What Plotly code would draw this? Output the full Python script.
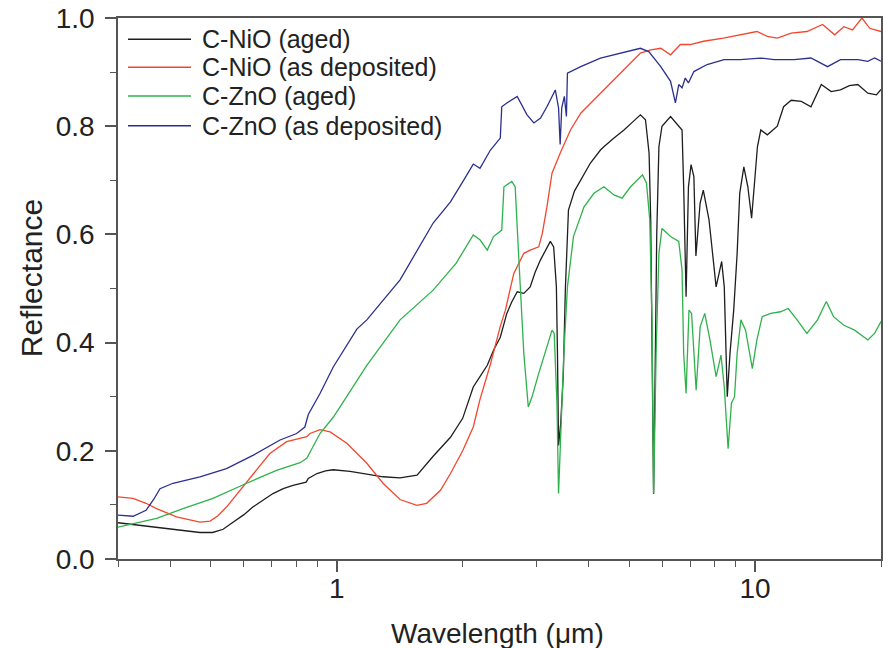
import plotly.graph_objects as go

# ---- data (wavelength in µm, reflectance) ----
nio_aged_wl = [0.30, 0.34, 0.371, 0.405, 0.44, 0.471, 0.505, 0.535, 0.565, 0.60, 0.63, 0.665, 0.704, 0.745,
               0.786, 0.845, 0.855, 0.897, 0.94, 0.98, 1.076, 1.18, 1.29, 1.417, 1.556, 1.70, 1.87, 2.0,
               2.12, 2.20, 2.29, 2.37, 2.46, 2.55, 2.62, 2.70, 2.80, 2.90, 2.98, 3.07, 3.15, 3.24, 3.30,
               3.35, 3.37, 3.39, 3.43, 3.48, 3.52, 3.58, 3.70, 3.83, 4.04, 4.27, 4.35, 4.60, 4.86, 5.10,
               5.32, 5.47, 5.58, 5.63, 5.68, 5.72, 5.77, 5.82, 5.89, 5.99, 6.28, 6.57, 6.69, 6.75, 6.84,
               6.93, 7.03, 7.14, 7.22, 7.39, 7.52, 7.76, 8.07, 8.32, 8.44, 8.58, 8.71, 8.89, 9.06, 9.19,
               9.40, 9.61, 9.81, 9.98, 10.13, 10.32, 10.7, 11.3, 11.7, 12.2, 12.9, 13.6, 14.4, 15.2, 16.0,
               16.8, 17.6, 18.6, 19.5, 20.0]
nio_aged_r = [0.067, 0.062, 0.058, 0.055, 0.052, 0.049, 0.049, 0.055, 0.068, 0.082, 0.096, 0.109, 0.121, 0.130,
              0.136, 0.142, 0.149, 0.158, 0.163, 0.165, 0.162, 0.157, 0.152, 0.150, 0.155, 0.19, 0.225, 0.26,
              0.318, 0.337, 0.358, 0.386, 0.41, 0.454, 0.475, 0.494, 0.491, 0.503, 0.53, 0.553, 0.57, 0.587, 0.577,
              0.503, 0.38, 0.21, 0.25, 0.34, 0.50, 0.645, 0.68, 0.70, 0.732, 0.756, 0.762, 0.778, 0.793, 0.808,
              0.821, 0.812, 0.75, 0.627, 0.35, 0.12, 0.35, 0.60, 0.762, 0.80, 0.818, 0.80, 0.793, 0.688, 0.485,
              0.688, 0.729, 0.707, 0.56, 0.658, 0.682, 0.627, 0.503, 0.55, 0.503, 0.30, 0.38, 0.46, 0.565, 0.676,
              0.725, 0.688, 0.63, 0.70, 0.762, 0.793, 0.784, 0.80, 0.836, 0.848, 0.846, 0.836, 0.877, 0.864, 0.867,
              0.875, 0.877, 0.861, 0.858, 0.868]

nio_dep_wl = [0.30, 0.326, 0.35, 0.371, 0.414, 0.471, 0.498, 0.52, 0.545, 0.587, 0.632, 0.692, 0.759, 0.817,
              0.848, 0.863, 0.912, 0.964, 1.057, 1.18, 1.29, 1.417, 1.554, 1.64, 1.77, 1.87, 2.0, 2.12, 2.20,
              2.33, 2.46, 2.53, 2.65, 2.80, 2.90, 3.04, 3.10, 3.18, 3.27, 3.42, 3.62, 3.83, 4.04, 4.43, 4.86,
              5.32, 5.63, 5.95, 6.28, 6.63, 7.0, 7.53, 8.4, 9.2, 10.1, 10.7, 11.3, 12.2, 13.3, 14.5, 15.5,
              16.3, 17.1, 18.0, 18.8, 20.0]
nio_dep_r = [0.115, 0.112, 0.103, 0.093, 0.078, 0.068, 0.070, 0.080, 0.096, 0.127, 0.158, 0.195, 0.217, 0.223,
             0.226, 0.232, 0.239, 0.235, 0.214, 0.177, 0.14, 0.110, 0.099, 0.103, 0.127, 0.158, 0.20, 0.244, 0.295,
             0.36, 0.43, 0.46, 0.528, 0.565, 0.571, 0.577, 0.602, 0.651, 0.713, 0.75, 0.793, 0.824, 0.842, 0.873,
             0.904, 0.935, 0.941, 0.944, 0.932, 0.951, 0.951, 0.957, 0.963, 0.969, 0.975, 0.966, 0.963, 0.972,
             0.975, 0.988, 0.969, 0.984, 0.978, 1.0, 0.981, 0.975]

zno_aged_wl = [0.30, 0.371, 0.429, 0.506, 0.609, 0.718, 0.817, 0.848, 0.912, 0.981, 1.18, 1.417, 1.70, 1.93,
               2.12, 2.20, 2.29, 2.37, 2.48, 2.51, 2.62, 2.67, 2.72, 2.80, 2.87, 2.93, 3.04, 3.15, 3.27, 3.31,
               3.36, 3.39, 3.44, 3.49, 3.56, 3.68, 3.90, 4.12, 4.35, 4.60, 4.81, 5.04, 5.38, 5.50, 5.60, 5.67,
               5.72, 5.80, 5.89, 5.99, 6.28, 6.57, 6.69, 6.75, 6.84, 6.95, 7.05, 7.23, 7.39, 7.58, 7.80, 8.07,
               8.29, 8.44, 8.62, 8.78, 8.93, 9.06, 9.25, 9.49, 9.85, 10.1, 10.4, 10.9, 11.5, 12.0, 12.6, 13.3,
               14.1, 14.8, 15.4, 16.3, 17.3, 18.6, 19.3, 20.0]
zno_aged_r = [0.059, 0.075, 0.093, 0.112, 0.14, 0.164, 0.178, 0.186, 0.232, 0.262, 0.358, 0.442, 0.497, 0.547,
              0.599, 0.59, 0.571, 0.596, 0.608, 0.688, 0.698, 0.688, 0.565, 0.38, 0.281, 0.30, 0.343, 0.38, 0.423,
              0.417, 0.288, 0.121, 0.25, 0.38, 0.503, 0.596, 0.651, 0.676, 0.688, 0.673, 0.667, 0.688, 0.71, 0.695,
              0.627, 0.442, 0.121, 0.38, 0.565, 0.611, 0.596, 0.587, 0.534, 0.38, 0.306, 0.46, 0.454, 0.312, 0.429,
              0.454, 0.405, 0.337, 0.377, 0.318, 0.204, 0.288, 0.30, 0.38, 0.442, 0.423, 0.352, 0.405, 0.448, 0.454,
              0.457, 0.463, 0.442, 0.417, 0.442, 0.476, 0.448, 0.432, 0.423, 0.405, 0.417, 0.439]

zno_dep_wl = [0.30, 0.326, 0.35, 0.365, 0.378, 0.406, 0.471, 0.545, 0.632, 0.732, 0.802, 0.839, 0.855, 0.912,
              0.981, 1.117, 1.18, 1.417, 1.70, 1.87, 2.01, 2.12, 2.20, 2.33, 2.46, 2.48, 2.55, 2.70, 2.85, 2.96,
              3.07, 3.18, 3.33, 3.39, 3.42, 3.45, 3.50, 3.54, 3.56, 3.83, 4.27, 4.76, 5.32, 5.57, 5.95, 6.28,
              6.45, 6.57, 6.69, 6.81, 6.93, 7.14, 7.68, 8.43, 9.22, 10.3, 11.1, 12.4, 13.6, 14.9, 16.0, 17.6,
              18.6, 19.3, 20.0]
zno_dep_r = [0.081, 0.079, 0.09, 0.11, 0.13, 0.14, 0.152, 0.167, 0.192, 0.22, 0.232, 0.244, 0.267, 0.306,
             0.355, 0.425, 0.442, 0.516, 0.621, 0.66, 0.70, 0.73, 0.722, 0.756, 0.778, 0.836, 0.843, 0.855, 0.821,
             0.806, 0.815, 0.836, 0.867, 0.834, 0.766, 0.834, 0.855, 0.818, 0.898, 0.91, 0.926, 0.935, 0.944,
             0.938, 0.91, 0.883, 0.843, 0.877, 0.871, 0.889, 0.88, 0.901, 0.914, 0.923, 0.923, 0.926, 0.923,
             0.923, 0.926, 0.91, 0.923, 0.923, 0.92, 0.926, 0.92]

series_names = ["C-NiO (aged)", "C-NiO (as deposited)", "C-ZnO (aged)", "C-ZnO (as deposited)"]
series_colors = ["#1e1e1e", "#f2472f", "#2fb24c", "#2b2f8f"]

x_tick_vals = [1, 10]
x_tick_text = ["1", "10"]
x_minor_vals = [0.3, 0.4, 0.5, 0.6, 0.7, 0.8, 0.9, 2, 3, 4, 5, 6, 7, 8, 9, 20]
y_tick_vals = [0.0, 0.2, 0.4, 0.6, 0.8, 1.0]
y_tick_text = ["0.0", "0.2", "0.4", "0.6", "0.8", "1.0"]
y_minor_vals = [0.1, 0.3, 0.5, 0.7, 0.9]

FONT = "Arial, Liberation Sans, sans-serif"
TXT = "#222222"
AX = "#555555"

fig = go.Figure()
data = [(nio_aged_wl, nio_aged_r), (nio_dep_wl, nio_dep_r), (zno_aged_wl, zno_aged_r), (zno_dep_wl, zno_dep_r)]
for (wl, r), name, col in zip(data, series_names, series_colors):
    fig.add_trace(go.Scatter(x=wl, y=r, mode="lines", name=name, showlegend=False,
                             line=dict(color=col, width=1.3)))

axis_common = dict(showgrid=False, zeroline=False, showline=True, linecolor=AX, linewidth=1.5,
                   mirror=True, ticks="outside", ticklen=11, tickwidth=1.5, tickcolor=AX,
                   automargin=False, ticklabeloverflow="allow",
                   tickfont=dict(family=FONT, size=28, color=TXT))

fig.update_xaxes(type="log", range=[-0.5229, 1.3010], tickvals=x_tick_vals, ticktext=x_tick_text,
                 ticklabelstandoff=-7,
                 minor=dict(ticks="outside", ticklen=6, tickwidth=1.2, tickcolor=AX, tickvals=x_minor_vals),
                 **axis_common)
fig.update_yaxes(range=[0, 1.0], tickvals=y_tick_vals, ticktext=y_tick_text,
                 ticklabelstandoff=5,
                 minor=dict(ticks="outside", ticklen=6, tickwidth=1.2, tickcolor=AX, tickvals=y_minor_vals),
                 **axis_common)

# axis titles
fig.add_annotation(text="Wavelength (μm)", xref="paper", yref="paper", x=0.4974, y=-0.1368,
                   xanchor="center", yanchor="middle", showarrow=False,
                   font=dict(family=FONT, size=28, color=TXT))
fig.add_annotation(text="Reflectance", xref="paper", yref="paper", x=-0.114, y=0.519,
                   xanchor="center", yanchor="middle", textangle=-90, showarrow=False,
                   font=dict(family=FONT, size=30, color=TXT))

# legend (line sample + label) in the upper-left corner of the plot
legend_rows_y = [0.9606, 0.9089, 0.8558, 0.8009]
for name, col, ly in zip(series_names, series_colors, legend_rows_y):
    fig.add_shape(type="line", xref="paper", yref="paper", x0=0.0131, x1=0.0957, y0=ly, y1=ly,
                  line=dict(color=col, width=1.6))
    fig.add_annotation(text=name, xref="paper", yref="paper", x=0.1075, y=ly,
                       xanchor="left", yanchor="middle", showarrow=False,
                       font=dict(family=FONT, size=25, color=TXT))

fig.update_layout(width=883, height=648, margin=dict(l=118, r=2, t=18, b=89),
                  paper_bgcolor="white", plot_bgcolor="white", showlegend=False)

# remove the page's default body margin so the figure fills the window exactly
fig.write_html("out.html", config={"displayModeBar": False},
               post_script="document.body.style.margin='0px';")
